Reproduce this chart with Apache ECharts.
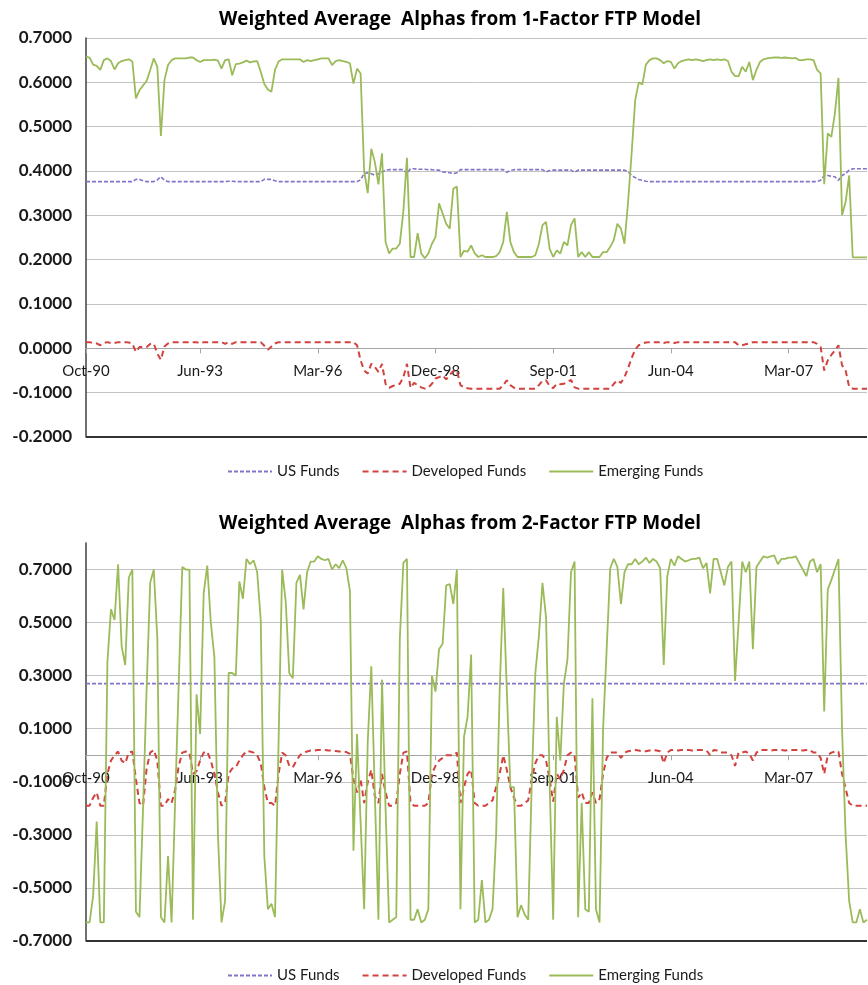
<!DOCTYPE html>
<html><head><meta charset="utf-8">
<script src="https://cdn.jsdelivr.net/npm/echarts@6/dist/echarts.min.js"></script>
<style>html,body{margin:0;padding:0;background:#fff}#c{width:868px;height:985px}</style>
</head><body><div id="c"></div>
<script>
const titles = ['Weighted Average  Alphas from 1-Factor FTP Model', 'Weighted Average  Alphas from 2-Factor FTP Model'];
const seriesNames = ['US Funds', 'Developed Funds', 'Emerging Funds'];
const tickLabels = ['Oct-90', 'Jun-93', 'Mar-96', 'Dec-98', 'Sep-01', 'Jun-04', 'Mar-07'];
const monthNames = ['Jan','Feb','Mar','Apr','May','Jun','Jul','Aug','Sep','Oct','Nov','Dec'];
const categories = [];
for (let k = 0; k < 220; k++) {
  const m = (9 + k) % 12;
  const y = (90 + Math.floor((9 + k) / 12)) % 100;
  categories.push(monthNames[m] + '-' + String(y).padStart(2, '0'));
}

// Panel 1: 1-Factor model
const us1 = [
.376,.376,.376,.376,.376,.376,.376,.376,.376,.376,
.376,.376,.376,.376,.381,.381,.378,.376,.376,.376,
.380,.387,.379,.376,.376,.376,.376,.376,.376,.376,
.376,.376,.376,.376,.376,.376,.376,.376,.376,.376,
.377,.377,.376,.376,.376,.376,.376,.376,.376,.376,
.381,.381,.381,.378,.376,.376,.376,.376,.376,.376,
.376,.376,.376,.376,.376,.376,.376,.376,.376,.376,
.376,.376,.376,.376,.376,.376,.376,.380,.394,.396,
.394,.390,.394,.398,.402,.403,.403,.403,.403,.403,
.394,.405,.405,.404,.404,.404,.403,.403,.402,.402,
.398,.397,.396,.394,.396,.403,.403,.403,.403,.403,
.403,.403,.403,.403,.403,.403,.403,.403,.397,.401,
.403,.403,.403,.403,.403,.403,.403,.403,.403,.398,
.401,.402,.402,.402,.402,.402,.402,.397,.402,.402,
.402,.402,.402,.402,.402,.402,.402,.402,.402,.402,
.402,.402,.398,.390,.385,.381,.379,.377,.376,.376,
.376,.376,.376,.376,.376,.376,.376,.376,.376,.376,
.376,.376,.376,.376,.376,.376,.376,.376,.376,.376,
.376,.376,.376,.376,.376,.376,.376,.376,.376,.376,
.376,.376,.376,.376,.376,.376,.376,.376,.376,.376,
.376,.376,.376,.376,.376,.376,.379,.390,.390,.388,
.387,.379,.390,.394,.402,.405,.405,.405,.405,.405];
const dev1 = [
.014,.014,.012,.011,.007,.012,.014,.012,.012,.014,
.014,.014,.013,.011,-.008,.003,.003,.003,.010,.011,
-.012,-.026,.004,.011,.014,.014,.014,.014,.014,.014,
.014,.014,.011,.014,.014,.014,.014,.014,.014,.010,
.014,.010,.014,.014,.014,.014,.014,.014,.014,.014,
.006,-.003,.004,.011,.014,.014,.014,.014,.014,.014,
.014,.014,.014,.014,.014,.014,.014,.014,.014,.014,
.014,.014,.014,.014,.014,.014,.007,-.027,-.050,-.057,
-.035,-.042,-.053,-.035,-.080,-.089,-.085,-.083,-.080,-.065,
-.035,-.089,-.078,-.083,-.088,-.091,-.088,-.080,-.068,-.065,
-.061,-.070,-.060,-.051,-.050,-.083,-.088,-.090,-.091,-.091,
-.091,-.091,-.091,-.091,-.091,-.091,-.091,-.083,-.072,-.083,
-.089,-.091,-.091,-.091,-.091,-.091,-.091,-.083,-.073,-.072,
-.085,-.090,-.080,-.081,-.080,-.076,-.071,-.088,-.091,-.091,
-.091,-.091,-.091,-.091,-.091,-.091,-.091,-.091,-.080,-.072,
-.078,-.065,-.045,-.022,-.003,.007,.011,.013,.014,.014,
.014,.014,.012,.014,.014,.012,.014,.014,.014,.014,
.014,.014,.014,.014,.014,.014,.014,.014,.014,.014,
.014,.014,.014,.007,.007,.009,.011,.014,.014,.014,
.014,.014,.014,.014,.014,.014,.014,.014,.014,.014,
.014,.014,.014,.014,.014,.010,.003,-.050,-.027,-.015,
-.005,.007,-.038,-.050,-.087,-.091,-.091,-.091,-.091,-.091];
const em1 = [
.658,.656,.640,.637,.628,.650,.654,.648,.629,.643,
.648,.650,.652,.647,.564,.582,.593,.603,.628,.654,
.635,.479,.605,.639,.650,.654,.654,.654,.654,.656,
.656,.650,.646,.650,.650,.650,.651,.649,.631,.650,
.652,.616,.641,.642,.645,.649,.645,.647,.648,.624,
.596,.584,.579,.628,.647,.652,.652,.652,.652,.652,
.652,.646,.650,.648,.650,.652,.654,.654,.654,.639,
.648,.650,.648,.646,.643,.597,.631,.620,.400,.350,
.450,.420,.370,.440,.240,.214,.225,.225,.236,.310,
.430,.206,.206,.260,.214,.203,.214,.236,.251,.327,
.304,.281,.270,.360,.365,.206,.220,.218,.232,.214,
.206,.210,.206,.206,.206,.208,.217,.240,.308,.240,
.217,.206,.206,.206,.206,.206,.210,.236,.278,.285,
.225,.206,.221,.214,.240,.232,.278,.293,.206,.217,
.206,.217,.206,.206,.206,.217,.217,.229,.244,.281,
.270,.236,.330,.440,.560,.600,.595,.640,.650,.654,
.654,.650,.643,.648,.646,.631,.643,.648,.650,.652,
.650,.652,.650,.648,.650,.652,.650,.652,.650,.652,
.648,.624,.614,.614,.635,.624,.646,.605,.628,.646,
.652,.654,.655,.656,.656,.655,.656,.655,.654,.655,
.650,.650,.652,.652,.650,.628,.620,.370,.485,.477,
.530,.610,.300,.330,.390,.205,.205,.205,.205,.205];

// Panel 2: 2-Factor model
const us2 = [
.27,.27,.27,.27,.27,.27,.27,.27,.27,.27,
.27,.27,.27,.27,.27,.27,.27,.27,.27,.27,
.27,.27,.27,.27,.27,.27,.27,.27,.27,.27,
.27,.27,.27,.27,.27,.27,.27,.27,.27,.27,
.27,.27,.27,.27,.27,.27,.27,.27,.27,.27,
.27,.27,.27,.27,.27,.27,.27,.27,.27,.27,
.27,.27,.27,.27,.27,.27,.27,.27,.27,.27,
.27,.27,.27,.27,.27,.27,.27,.27,.27,.27,
.27,.27,.27,.27,.27,.27,.27,.27,.27,.27,
.27,.27,.27,.27,.27,.27,.27,.27,.27,.27,
.27,.27,.27,.27,.27,.27,.27,.27,.27,.27,
.27,.27,.27,.27,.27,.27,.27,.27,.27,.27,
.27,.27,.27,.27,.27,.27,.27,.27,.27,.27,
.27,.27,.27,.27,.27,.27,.27,.27,.27,.27,
.27,.27,.27,.27,.27,.27,.27,.27,.27,.27,
.27,.27,.27,.27,.27,.27,.27,.27,.27,.27,
.27,.27,.27,.27,.27,.27,.27,.27,.27,.27,
.27,.27,.27,.27,.27,.27,.27,.27,.27,.27,
.27,.27,.27,.27,.27,.27,.27,.27,.27,.27,
.27,.27,.27,.27,.27,.27,.27,.27,.27,.27,
.27,.27,.27,.27,.27,.27,.27,.27,.27,.27,
.27,.27,.27,.27,.27,.27,.27,.27,.27,.27];
const dev2 = [
-.19,-.19,-.16,-.14,-.19,-.19,-.07,-.02,.00,.014,
-.02,-.03,.01,.014,-.09,-.18,-.19,-.05,.01,.02,
-.02,-.19,-.19,-.165,-.18,-.13,-.04,.01,.014,.01,
-.07,-.06,-.02,.01,.014,-.02,-.07,-.14,-.19,-.18,
-.07,-.05,-.045,-.02,.00,.016,.014,.01,.00,-.03,
-.12,-.18,-.18,-.19,-.07,.01,.00,-.04,-.045,-.02,
.00,.01,.014,.018,.018,.02,.02,.02,.018,.018,
.016,.014,.014,.012,.005,-.09,-.14,-.09,-.18,-.10,
-.055,-.155,-.18,-.07,-.14,-.19,-.19,-.18,-.07,.01,
.014,-.18,-.19,-.19,-.19,-.19,-.18,-.07,-.04,-.02,
-.01,.00,.00,.00,.01,-.18,-.12,-.07,-.055,-.18,
-.19,-.19,-.19,-.18,-.17,-.12,-.07,.00,-.055,-.12,
-.16,-.19,-.19,-.18,-.17,-.09,-.03,.00,.00,-.02,
-.09,-.175,-.07,-.09,-.055,.00,.01,.00,-.16,-.14,
-.18,-.18,-.14,-.18,-.165,-.07,-.01,.01,.01,.01,
-.01,.01,.015,.018,.02,.018,.015,.015,.018,.02,
.018,.015,-.03,.01,.02,.02,.018,.02,.02,.02,
.018,.02,.02,.02,.018,.00,.02,.018,.01,.01,
.01,.00,-.04,.01,.01,.014,.005,-.02,.01,.02,
.02,.02,.018,.02,.02,.02,.018,.02,.02,.02,
.02,.018,.02,.02,.01,.01,-.01,-.07,.00,.01,
.014,.014,-.07,-.125,-.18,-.19,-.19,-.19,-.19,-.19];
const em2 = [
-.63,-.63,-.53,-.25,-.63,-.63,.35,.55,.51,.72,
.41,.34,.67,.70,-.59,-.61,-.20,.25,.65,.70,
.44,-.61,-.63,-.38,-.63,-.17,.27,.71,.70,.70,
-.62,.23,.08,.61,.715,.50,.37,-.30,-.63,-.55,
.31,.31,.30,.655,.59,.74,.72,.735,.69,.51,
-.38,-.58,-.56,-.61,.05,.70,.58,.31,.29,.65,
.68,.55,.69,.73,.73,.75,.74,.735,.74,.70,
.72,.705,.735,.705,.62,-.36,.08,-.25,-.58,.05,
.335,-.15,-.62,.285,-.20,-.63,-.62,-.61,.44,.725,
.74,-.62,-.62,-.58,-.63,-.62,-.58,.30,.24,.40,
.42,.64,.645,.57,.70,-.58,.07,.145,.38,-.63,
-.62,-.47,-.63,-.62,-.58,-.30,.245,.63,.245,-.12,
-.12,-.61,-.565,-.60,-.62,-.10,.31,.45,.65,.52,
-.10,-.62,.145,-.02,.27,.36,.69,.73,-.61,-.18,
-.58,-.59,.215,-.58,-.63,.10,.40,.705,.74,.71,
.57,.69,.72,.72,.74,.72,.73,.745,.725,.74,
.73,.705,.34,.675,.74,.715,.75,.74,.73,.735,
.74,.74,.745,.705,.725,.61,.74,.74,.69,.64,
.71,.73,.28,.50,.73,.69,.73,.40,.71,.73,
.75,.745,.75,.753,.72,.74,.74,.745,.745,.75,
.725,.70,.675,.73,.74,.69,.72,.165,.625,.66,
.70,.74,.10,-.30,-.55,-.63,-.63,-.58,-.63,-.62];

const yRanges = [[-0.2, 0.7, 0.1], [-0.7, 0.8, 0.2]];
const grids = [{ left: 86, right: 1, top: 38, height: 399 }, { left: 86, right: 1, top: 543, height: 398 }];
const FONT = 'Lato';
const colors = ['#8573c9', '#d2423e', '#9bbb59'];
const showTick = (idx, val) => tickLabels.indexOf(val) >= 0;

function mainX(gi) {
  const r = yRanges[gi];
  // move the category axis up from the grid bottom to where the value axis crosses 0
  const zeroOffset = -((0 - r[0]) / (r[1] - r[0])) * grids[gi].height;
  return {
    type: 'category', gridIndex: gi, data: categories, boundaryGap: false, position: 'bottom',
    offset: zeroOffset,
    axisLine: { onZero: false, lineStyle: { color: '#a6a6a6', width: 1 } },
    axisTick: { show: true, interval: showTick, length: 5, lineStyle: { color: '#a6a6a6' } },
    axisLabel: { interval: showTick, margin: 15, color: '#1a1a1a', fontFamily: FONT, fontSize: 15 },
    splitLine: { show: false }
  };
}
function yAx(gi) {
  const r = yRanges[gi];
  return {
    type: 'value', gridIndex: gi, min: r[0], max: r[1], interval: r[2],
    axisLine: { show: true, onZero: false, lineStyle: { color: '#404040', width: 1.5 } },
    axisTick: { show: false },
    axisLabel: { margin: 14, color: '#1a1a1a', fontFamily: FONT, fontSize: 17, fontWeight: 'bold',
      showMaxLabel: gi === 0, formatter: v => v.toFixed(4) },
    splitLine: { show: true, showMaxLine: gi === 0, lineStyle: { color: '#c4c4c4', width: 1 } }
  };
}
function mk(name, data, gi, idx) {
  const styles = [
    { color: colors[0], width: 1.6, type: [4, 2] },
    { color: colors[1], width: 2, type: [6, 4] },
    { color: colors[2], width: 1.8, type: 'solid' }
  ];
  const s = {
    name: name, type: 'line', data: data, xAxisIndex: gi, yAxisIndex: gi,
    showSymbol: false, symbol: 'none', animation: false, color: colors[idx],
    lineStyle: styles[idx], z: 2 + idx
  };
  if (idx === 0) {
    s.markLine = {
      silent: true, symbol: 'none', animation: false,
      label: { show: false },
      lineStyle: { color: '#333', type: 'solid', width: 2 },
      data: [{ yAxis: yRanges[gi][0] }]
    };
  }
  return s;
}
function legend(top) {
  return {
    top: top, left: 222, itemWidth: 44, itemHeight: 10, itemGap: 22,
    data: seriesNames, textStyle: { fontFamily: FONT, fontSize: 15, color: '#1a1a1a' },
    itemStyle: { opacity: 0 },
    selectedMode: false
  };
}

const chart = echarts.init(document.getElementById('c'), null, { renderer: 'canvas' });
chart.setOption({
  backgroundColor: '#fff',
  animation: false,
  title: [
    { text: titles[0], left: 214, top: 5, textStyle: { fontFamily: 'Open Sans', fontSize: 19, fontWeight: 'bold', color: '#000' } },
    { text: titles[1], left: 214, top: 509, textStyle: { fontFamily: 'Open Sans', fontSize: 19, fontWeight: 'bold', color: '#000' } }
  ],
  legend: [legend(459), legend(963)],
  grid: grids,
  xAxis: [mainX(0), mainX(1)],
  yAxis: [yAx(0), yAx(1)],
  series: [
    mk(seriesNames[0], us1, 0, 0), mk(seriesNames[1], dev1, 0, 1), mk(seriesNames[2], em1, 0, 2),
    mk(seriesNames[0], us2, 1, 0), mk(seriesNames[1], dev2, 1, 1), mk(seriesNames[2], em2, 1, 2)
  ]
});
</script></body></html>
